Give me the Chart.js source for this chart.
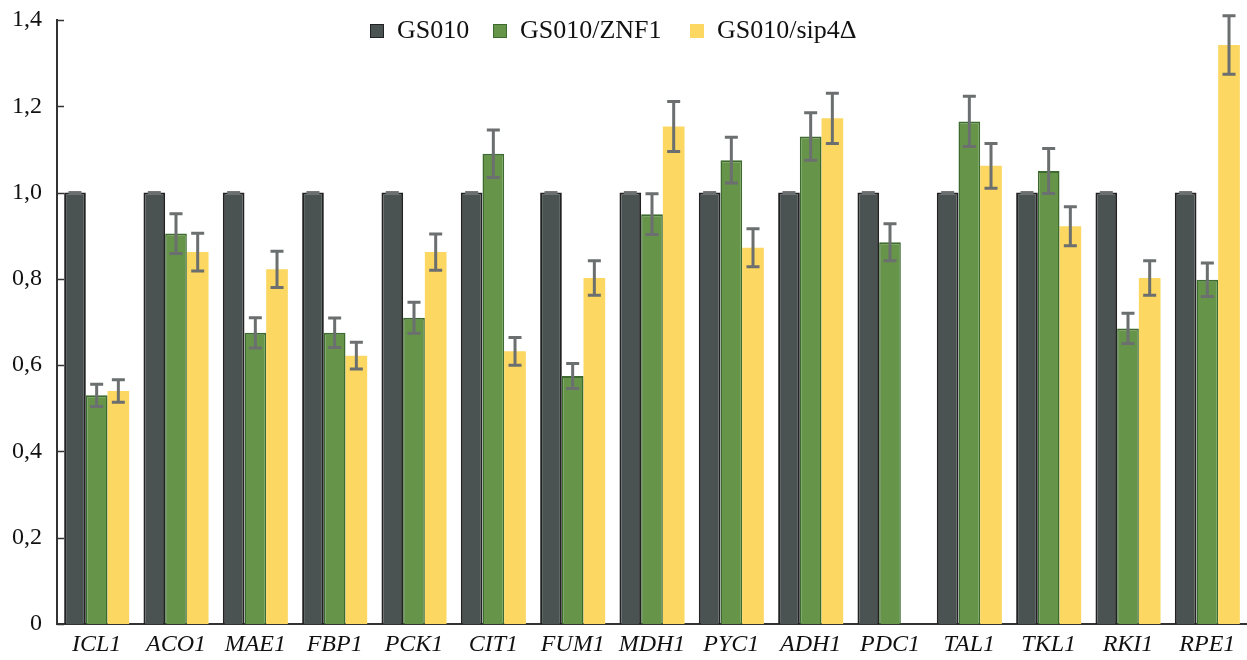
<!DOCTYPE html>
<html>
<head>
<meta charset="utf-8">
<script src="https://cdn.jsdelivr.net/npm/chart.js@4.4.1/dist/chart.umd.min.js"></script>
<style>
  html, body { margin: 0; padding: 0; background: #fff; }
  #wrap { position: relative; width: 1247px; height: 660px; }
  .leg { position: absolute; top: 15px; font-family: "Liberation Serif", "DejaVu Serif", serif; font-size: 26px; color: #111; line-height: 30px; white-space: nowrap; }
  .box { position: absolute; width: 14px; height: 14px; box-sizing: border-box; }
</style>
</head>
<body>
<div id="wrap">
  <canvas id="c"></canvas>
  <div class="box" style="left:370px; top:24px; background:#4a5352; border:1.5px solid #222;"></div>
  <div class="leg" style="left:397px;">GS010</div>
  <div class="box" style="left:493px; top:24px; background:#66954a; border:1.5px solid #3d6b2f;"></div>
  <div class="leg" style="left:520px;">GS010/ZNF1</div>
  <div class="box" style="left:690px; top:24px; background:#fcd762;"></div>
  <div class="leg" style="left:717px;">GS010/sip4Δ</div>
</div>
<script>
const categories = ['ICL1','ACO1','MAE1','FBP1','PCK1','CIT1','FUM1','MDH1','PYC1','ADH1','PDC1','TAL1','TKL1','RKI1','RPE1'];
const seriesNames = ['GS010', 'GS010/ZNF1', 'GS010/sip4Δ'];
const gs010 = [1,1,1,1,1,1,1,1,1,1,1,1,1,1,1];
const znf1 = [0.53,0.905,0.675,0.675,0.71,1.09,0.575,0.95,1.075,1.13,0.885,1.165,1.05,0.685,0.798];
const sip4 = [0.54,0.862,0.822,0.622,0.862,0.632,0.802,1.153,0.872,1.172,null,1.062,0.922,0.802,1.342];
const gs010Err = [0,0,0,0,0,0,0,0,0,0,0,0,0,0,0];
const znf1Err = [0.026,0.046,0.035,0.034,0.036,0.055,0.029,0.047,0.053,0.055,0.043,0.058,0.052,0.035,0.039];
const sip4Err = [0.026,0.044,0.042,0.031,0.042,0.032,0.040,0.058,0.044,0.058,null,0.052,0.045,0.040,0.068];
const yTicks = [0,0.2,0.4,0.6,0.8,1.0,1.2,1.4];

const serif = '"Liberation Serif", "DejaVu Serif", serif';

const errorBars = {
  id: 'errorBars',
  afterDatasetsDraw(chart) {
    const ctx = chart.ctx;
    const y = chart.scales.y;
    ctx.save();
    ctx.strokeStyle = '#6b6f6f';
    ctx.lineWidth = 3;
    chart.data.datasets.forEach((ds, di) => {
      const meta = chart.getDatasetMeta(di);
      meta.data.forEach((bar, i) => {
        const v = ds.data[i], e = ds.errors[i];
        if (v == null || e == null) return;
        const x = bar.x;
        const yt = y.getPixelForValue(v + e);
        const yb = y.getPixelForValue(v - e);
        const cw = 6.5;
        ctx.beginPath();
        if (e > 0) {
          ctx.moveTo(x, yt); ctx.lineTo(x, yb);
          ctx.moveTo(x - cw, yb); ctx.lineTo(x + cw, yb);
        }
        ctx.moveTo(x - cw, yt); ctx.lineTo(x + cw, yt);
        ctx.stroke();
      });
    });
    ctx.restore();
  }
};

const innerTicks = {
  id: 'innerTicks',
  afterDraw(chart) {
    const ctx = chart.ctx;
    const y = chart.scales.y;
    const left = chart.chartArea.left;
    ctx.save();
    ctx.strokeStyle = '#333';
    ctx.lineWidth = 1.5;
    yTicks.forEach(t => {
      const py = Math.round(y.getPixelForValue(t)) + 0.5;
      ctx.beginPath();
      ctx.moveTo(left, py); ctx.lineTo(left + 7, py);
      ctx.stroke();
    });
    ctx.restore();
  }
};

new Chart(document.getElementById('c'), {
  type: 'bar',
  data: {
    labels: categories,
    datasets: [
      { label: seriesNames[0], data: gs010, errors: gs010Err, backgroundColor: '#4a5352', borderColor: '#222', borderWidth: {left: 2, right: 2, top: 2, bottom: 0} },
      { label: seriesNames[1], data: znf1, errors: znf1Err, backgroundColor: '#66954a', borderColor: '#3d6b2f', borderWidth: {left: 1.5, right: 1.5, top: 2, bottom: 0} },
      { label: seriesNames[2], data: sip4, errors: sip4Err, backgroundColor: '#fcd762', borderWidth: 0 }
    ]
  },
  options: {
    responsive: true,
    maintainAspectRatio: false,
    animation: false,
    layout: { padding: { top: 20, right: 0, left: 0, bottom: 0 } },
    plugins: { legend: { display: false }, tooltip: { enabled: false } },
    datasets: { bar: { categoryPercentage: 0.82, barPercentage: 1.0 } },
    scales: {
      x: {
        grid: { display: false, drawTicks: false },
        border: { display: true, color: '#333', width: 2 },
        ticks: { color: '#111', padding: 6, maxRotation: 0, autoSkip: false, font: { family: serif, size: 24, style: 'italic' } },
        afterFit(s) { s.height = 36; s.paddingLeft = 0; s.paddingRight = 0; }
      },
      y: {
        min: 0, max: 1.4,
        afterBuildTicks(s) { s.ticks = yTicks.map(v => ({ value: v })); },
        grid: { display: false, drawTicks: false },
        border: { display: true, color: '#333', width: 2 },
        ticks: {
          color: '#111', padding: 15,
          font: { family: serif, size: 24 },
          callback: v => v === 0 ? '0' : v.toFixed(1).replace('.', ',')
        },
        afterFit(s) { s.width = 57; s.paddingTop = 0; s.paddingBottom = 0; }
      }
    }
  },
  plugins: [errorBars, innerTicks]
});
</script>
</body>
</html>
